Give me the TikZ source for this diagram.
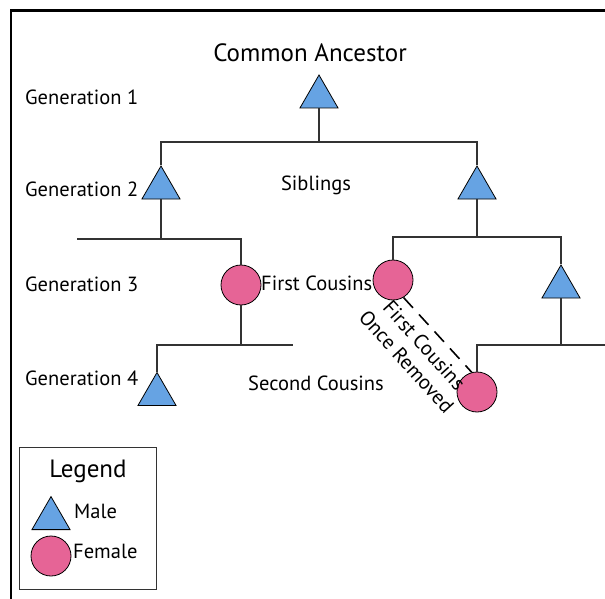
\documentclass[tikz,border=0pt]{standalone}
\usepackage{fontspec}
\setmainfont{PT Sans}
\usetikzlibrary{shapes.geometric}
\definecolor{maleblue}{RGB}{102,163,227}
\definecolor{femalepink}{RGB}{230,100,150}
\tikzstyle{male} = [regular polygon, regular polygon sides=3, minimum size=44pt, inner sep=0pt, draw=black, line width=0.8pt, fill=maleblue]
\tikzstyle{female} = [circle, minimum size=40pt, inner sep=0pt, draw=black, line width=0.8pt, fill=femalepink]
\tikzstyle{gentext} = [font=\fontsize{20.5}{24}\selectfont, inner sep=0pt]
\tikzstyle{bigtext} = [font=\fontsize{25}{30}\selectfont, inner sep=0pt]
\tikzstyle{link} = [draw=black!80, line width=1.2pt]

\begin{document}
\begin{tikzpicture}[x=1pt, y=-1pt]
    \useasboundingbox (0,0) rectangle (605,599);
    % Frame
    \draw [line width=2.5pt] (11,599) -- (11,10.5) -- (605,10.5);

    % Nodes
    \node (ancestor) [male] at (319,97) {};
    \node (sib1) [male] at (161,188) {};
    \node (sib2) [male] at (477,188) {};
    \node (cousin1) [female] at (241,285) {};
    \node (cousin2) [female] at (393,280) {};
    \node (uncle) [male] at (561,287) {};
    \node (second) [male] at (157,394.5) {};
    \node (removed) [female] at (477,392) {};

    % Labels (placed on their baselines)
    \node (title) [bigtext, anchor=base] at (310,62) {Common Ancestor};
    \node (gen1) [gentext, anchor=base west] at (25,105) {Generation 1};
    \node (gen2) [gentext, anchor=base west] at (25,196.5) {Generation 2};
    \node (gen3) [gentext, anchor=base west] at (25,291) {Generation 3};
    \node (gen4) [gentext, anchor=base west] at (25,385) {Generation 4};
    \node (siblings) [gentext, anchor=base] at (316,190.5) {Siblings};
    \node (firstcousins) [gentext, anchor=base west] at (261,290.5) {First Cousins};
    \node (secondcousins) [gentext, anchor=base] at (316,390.5) {Second Cousins};
    \node (onceremoved) [gentext, rotate=-48, align=center] at (415.5,353.5) {First Cousins\\Once Removed};

    % Legend
    \node (legendbox) [draw=black!80, line width=1pt, minimum width=137pt, minimum height=142pt] at (88,518) {};
    \node (legend) [bigtext, anchor=base] at (88,477.5) {Legend};
    \node (keymale) [male] at (51,518.6) {};
    \node (malelbl) [gentext, anchor=base west] at (74,518) {Male};
    \node (keyfemale) [female] at (51,556) {};
    \node (femalelbl) [gentext, anchor=base west] at (73,558) {Female};

    % Lines
    \coordinate (bar1) at (319,142);
    \draw [link] (ancestor.side 2) -- (bar1);
    \draw [link] (sib1.corner 1) |- (bar1) -| (sib2.corner 1);
    \coordinate (bar2) at (77,239);
    \draw [link] (sib1.side 2) -- (sib1.side 2 |- bar2);
    \draw [link] (bar2) -| (cousin1.north);
    \coordinate (bar3) at (477,237);
    \draw [link] (sib2.side 2) -- (bar3);
    \draw [link] (cousin2.north) |- (bar3) -| (uncle.corner 1);
    \coordinate (bar4) at (293,345);
    \draw [link] (cousin1.south) -- (cousin1.south |- bar4);
    \draw [link] (second.corner 1) |- (bar4);
    \coordinate (bar5) at (605,345);
    \draw [link] (uncle.side 2) -- (uncle.side 2 |- bar5);
    \draw [link] (removed.north) |- (bar5);
    \draw [link, draw=black, line width=1.6pt, dash pattern=on 14pt off 9pt] (cousin2.-59) -- (removed.105);

\end{tikzpicture}
\end{document}
